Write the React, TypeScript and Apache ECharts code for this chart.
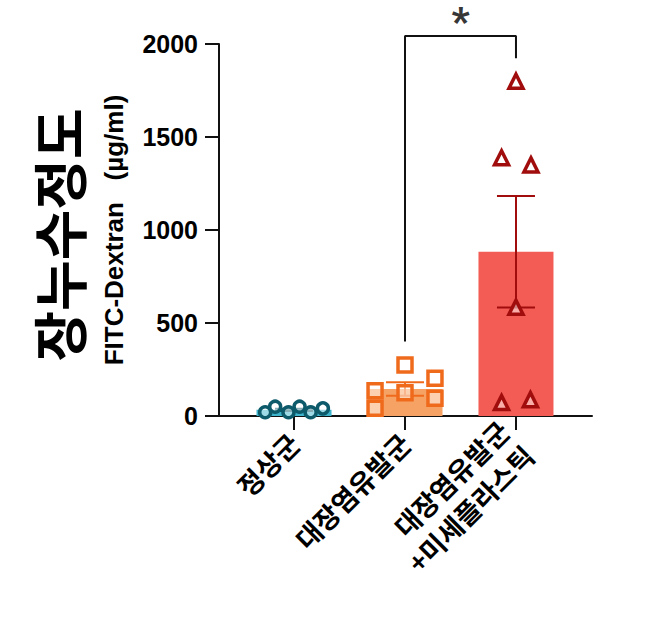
import React, { useEffect, useRef } from 'react';
import * as echarts from 'echarts';

const COLORS = {
  AXIS: '#111111',
  BARS: ['#3db3cc', '#f6a264', '#f25c54'],
  MARKS: ['#0d5a6a', '#f06a1c', '#a10d0d'],
};

const GROUPS = ['정상군', '대장염유발군', '대장염유발군\n+미세플라스틱'];
const MEANS = [33, 145, 883];
const SEMS = [6, 36, 300];

// [offset from group centre, value]
const NORMAL_POINTS = [[-0.26, 20], [-0.17, 50], [-0.05, 20], [0.05, 50], [0.15, 20], [0.26, 41]];
const COLITIS_POINTS = [[0, 274], [0.27, 203], [0.27, 95], [-0.27, 136], [-0.27, 41], [0, 125]];
const MP_POINTS = [[0, 1800], [-0.13, 1388], [0.135, 1350], [0, 585], [-0.13, 72], [0.13, 88]];

const BRACKET = [[1, 400], [1, 2043], [2, 2043], [2, 1923]];
const STAR = [1.5, 2118];

const FONT = 'Arial, "Liberation Sans", sans-serif';
const KFONT = '"Noto Sans CJK KR", sans-serif';

const pointSeries = (points: number[][], idx: number, symbol: string, size: number) => ({
  type: 'scatter',
  symbol,
  symbolSize: size,
  data: points.map((p) => [idx + p[0], p[1]]),
  itemStyle: {
    color: 'rgba(255,255,255,0.5)',
    borderColor: COLORS.MARKS[idx],
    borderWidth: 3.5,
    opacity: 1,
  },
  z: 4,
});

const App: React.FC = () => {
  const divEL = useRef(null);

  useEffect(() => {
    const instance = echarts.init(divEL.current as any, null, { renderer: 'svg' });

    const option: any = {
      animation: false,
      grid: { left: 219, right: 54, top: 44, bottom: 214, outerBoundsMode: 'none' },
      graphic: [
        {
          type: 'text',
          x: 57,
          y: 235,
          rotation: Math.PI / 2,
          style: {
            text: '장누수정도',
            align: 'center',
            verticalAlign: 'middle',
            fontSize: 55,
            fontWeight: 'bold',
            fontFamily: KFONT,
            fill: '#000',
          },
        },
      ],
      xAxis: {
        type: 'value',
        min: -0.676,
        max: 2.685,
        splitLine: { show: false },
        axisLine: { show: true, onZero: false, lineStyle: { color: COLORS.AXIS, width: 2 } },
        axisTick: {
          show: true,
          customValues: [0, 1, 2],
          length: 14,
          lineStyle: { color: COLORS.AXIS, width: 2 },
        },
        axisLabel: {
          customValues: [0, 1, 2],
          formatter: (v: number) => GROUPS[Math.round(v)],
          rotate: 45,
          margin: 22,
          fontSize: 27,
          lineHeight: 35,
          fontWeight: 'bold',
          fontFamily: KFONT,
          color: '#000',
        },
      },
      yAxis: {
        type: 'value',
        min: 0,
        max: 2000,
        interval: 500,
        splitLine: { show: false },
        axisLine: { show: true, onZero: false, lineStyle: { color: COLORS.AXIS, width: 2 } },
        axisTick: { show: true, length: 14, lineStyle: { color: COLORS.AXIS, width: 2 } },
        axisLabel: {
          margin: 21,
          fontSize: 25,
          fontWeight: 'bold',
          fontFamily: FONT,
          color: '#000',
          formatter: (v: number) => String(v),
        },
        name: 'FITC-Dextran   (µg/ml)',
        nameLocation: 'middle',
        nameGap: 92,
        nameTextStyle: {
          fontSize: 26,
          fontWeight: 'bold',
          fontFamily: FONT,
          color: '#000',
        },
      },
      series: [
        {
          type: 'bar',
          barWidth: 75,
          data: MEANS.map((m, i) => ({ value: [i, m], itemStyle: { color: COLORS.BARS[i] } })),
          z: 2,
        },
        {
          type: 'custom',
          data: MEANS.map((m, i) => [i, m, SEMS[i]]),
          renderItem: (params: any, api: any) => {
            const x = api.value(0);
            const m = api.value(1);
            const s = api.value(2);
            const top = api.coord([x, m + s]);
            const bot = api.coord([x, m - s]);
            const half = 19;
            const style = { stroke: COLORS.MARKS[params.dataIndex], lineWidth: 2 };
            return {
              type: 'group',
              children: [
                { type: 'line', shape: { x1: top[0], y1: top[1], x2: bot[0], y2: bot[1] }, style },
                { type: 'line', shape: { x1: top[0] - half, y1: top[1], x2: top[0] + half, y2: top[1] }, style },
                { type: 'line', shape: { x1: bot[0] - half, y1: bot[1], x2: bot[0] + half, y2: bot[1] }, style },
              ],
            };
          },
          z: 3,
        },
        pointSeries(NORMAL_POINTS, 0, 'circle', 11),
        pointSeries(COLITIS_POINTS, 1, 'rect', 14),
        pointSeries(MP_POINTS, 2, 'triangle', 14),
        {
          type: 'line',
          data: BRACKET,
          symbol: 'none',
          clip: false,
          lineStyle: { color: COLORS.AXIS, width: 2 },
          z: 5,
        },
        {
          type: 'scatter',
          data: [STAR],
          symbolSize: 0,
          clip: false,
          label: {
            show: true,
            position: 'inside',
            formatter: '*',
            fontSize: 39,
            fontWeight: 900,
            fontFamily: 'Roboto, sans-serif',
            color: '#000',
          },
          z: 5,
        },
      ],
    };

    instance.setOption(option);

    return () => {
      instance.dispose();
    };
  }, []);

  return (
    <div
      ref={divEL}
      style={{ position: 'fixed', left: 0, top: 0, width: 646, height: 630, background: '#fff' }}
    ></div>
  );
};

export default App;
